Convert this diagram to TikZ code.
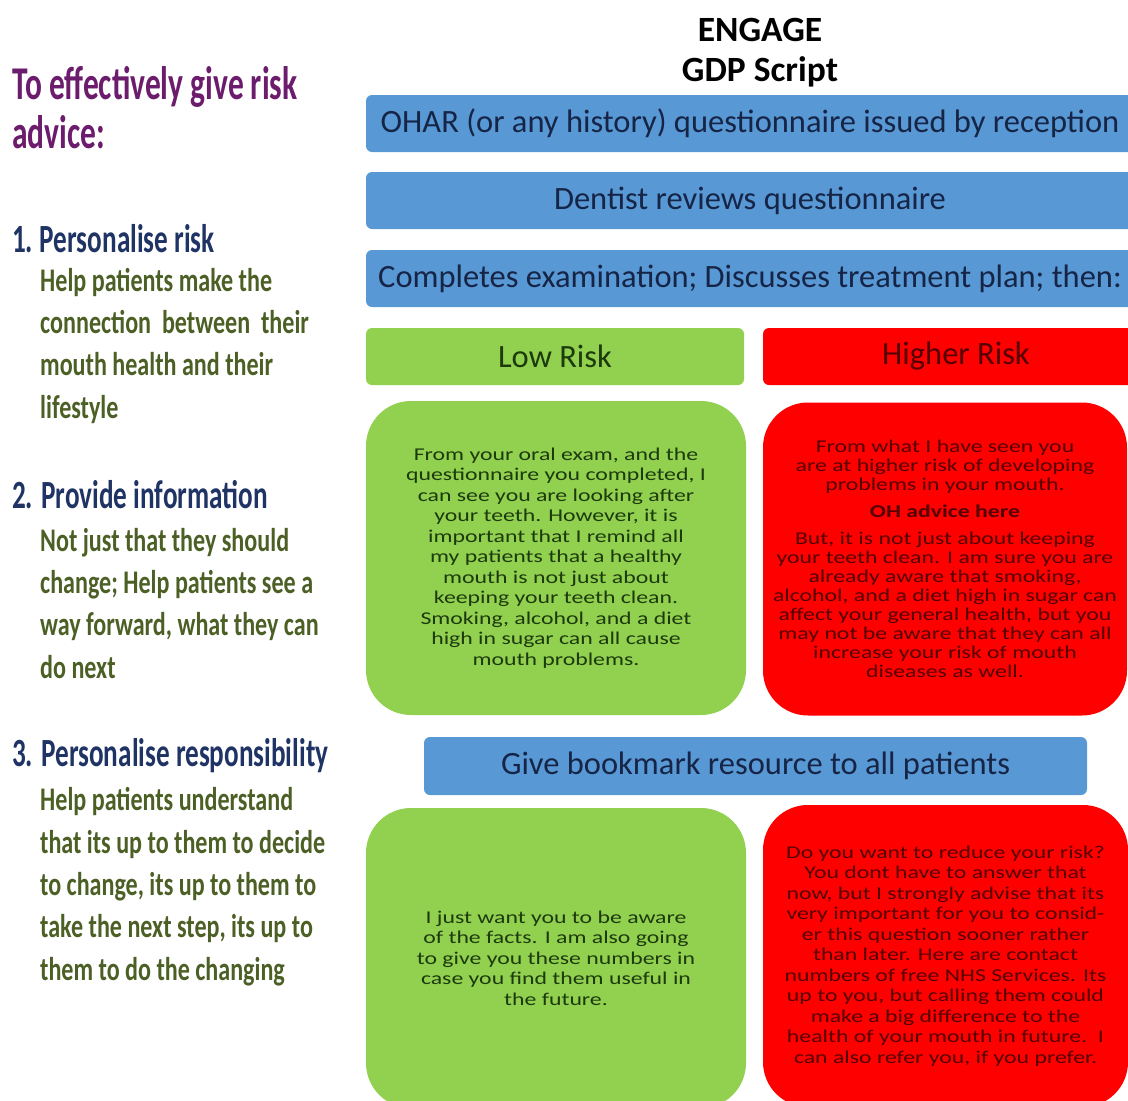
\documentclass[tikz,border=0pt]{standalone}
\usepackage{fontspec}
\setmainfont{Carlito}
\newfontfamily\titlefont[FakeStretch=0.67]{Carlito}
\newfontfamily\headfont[FakeStretch=0.68]{Carlito}
\newfontfamily\sidefont[FakeStretch=0.73]{Carlito}
\newfontfamily\talkfont[FakeStretch=1.32]{Carlito}

\definecolor{barblue}{RGB}{88,152,212}
\definecolor{lowgreen}{RGB}{146,208,80}
\definecolor{highred}{RGB}{255,0,0}
\definecolor{bartext}{RGB}{22,36,70}
\definecolor{lowtext}{RGB}{28,58,12}
\definecolor{hightext}{RGB}{84,0,0}
\definecolor{titlepurple}{RGB}{108,28,108}
\definecolor{headnavy}{RGB}{31,52,100}
\definecolor{bodyolive}{RGB}{76,96,38}

\begin{document}
\begin{tikzpicture}[x=1pt,y=-1pt,
    bar/.style={fill=barblue,rounded corners=6pt,minimum height=57pt,inner sep=0pt,
      text=bartext,font=\fontsize{32.5}{38}\selectfont},
    lowbar/.style={bar,fill=lowgreen,text=lowtext},
    highbar/.style={bar,fill=highred,text=hightext},
    talk/.style={rounded corners=45pt,inner sep=0pt,align=center,
      font=\talkfont\fontsize{18}{20.5}\selectfont},
    lowtalk/.style={talk,fill=lowgreen,text=lowtext},
    hightalk/.style={talk,fill=highred,text=hightext},
    side/.style={anchor=base west,inner sep=0pt,align=left,
      font=\sidefont\bfseries\fontsize{33}{42.3}\selectfont},
    sidehead/.style={side,text=headnavy,font=\headfont\bfseries\fontsize{40}{42}\selectfont}]
    \useasboundingbox (0,0) rectangle (1128,1101);
    \clip (0,0) rectangle (1128,1101);

    % heading of the script
    \node[font=\bfseries\fontsize{35.5}{40}\selectfont] (engage) at (760,30) {ENGAGE};
    \node[font=\bfseries\fontsize{35.5}{40}\selectfont] (gdp) at (760,72) {GDP Script};

    % flow bars
    \node[bar,minimum width=768pt] (ohar) at (750,123.5) {OHAR (or any history) questionnaire issued by reception};
    \node[bar,minimum width=768pt] (review) at (750,200.5) {Dentist reviews questionnaire};
    \node[bar,minimum width=768pt] (exam) at (750,278.5) {Completes examination; Discusses treatment plan; then:};
    \node[lowbar,minimum width=378pt] (low) at (555,356.5) {Low Risk};
    \node[highbar,minimum width=386pt] (high) at (956,356.5) {Higher Risk};

    % what the dentist says
    \node[lowtalk,minimum width=380pt,minimum height=314pt] (lowsay) at (556,558)
      {From your oral exam, and the\\questionnaire you completed, I\\can see you are looking after\\your teeth. However, it is\\important that I remind all\\my patients that a healthy\\mouth is not just about\\keeping your teeth clean.\\Smoking, alcohol, and a diet\\high in sugar can all cause\\mouth problems.};
    \node[hightalk,minimum width=364pt,minimum height=313pt,
      font=\talkfont\fontsize{18}{19}\selectfont] (highsay) at (945,559)
      {From what I have seen you\\are at higher risk of developing\\problems in your mouth.\\[8pt]\textbf{OH advice here}\\[8pt]But, it is not just about keeping\\your teeth clean. I am sure you are\\already aware that smoking,\\alcohol, and a diet high in sugar can\\affect your general health, but you\\may not be aware that they can all\\increase your risk of mouth\\diseases as well.};

    \node[bar,minimum width=663pt,minimum height=58pt] (bookmark) at (755.5,766) {Give bookmark resource to all patients};

    \node[lowtalk,minimum width=380pt,minimum height=300pt] (lowend) at (556,958)
      {I just want you to be aware\\of the facts. I am also going\\to give you these numbers in\\case you find them useful in\\the future.};
    \node[hightalk,minimum width=365pt,minimum height=302pt] (highend) at (945.5,956)
      {Do you want to reduce your risk?\\You dont have to answer that\\now, but I strongly advise that its\\very important for you to consid-\\er this question sooner rather\\than later. Here are contact\\numbers of free NHS Services. Its\\up to you, but calling them could\\make a big difference to the\\health of your mouth in future.\ \ I\\can also refer you, if you prefer.};

    % left column (base = last line)
    \node[side,text=titlepurple,font=\titlefont\bfseries\fontsize{47}{49}\selectfont] (advice) at (12,148)
      {To effectively give risk\\advice:};
    \node[sidehead] (personal) at (12,252) {1.\,Personalise risk};
    \node[side,text=bodyolive] (personaltext) at (40,418)
      {Help patients make the\\connection\ \ between\ \ their\\mouth health and their\\lifestyle};
    \node[sidehead] (inform) at (12,508) {2. Provide information};
    \node[side,text=bodyolive] (informtext) at (40,678)
      {Not just that they should\\change; Help patients see a\\way forward, what they can\\do next};
    \node[sidehead] (respons) at (12,766) {3. Personalise responsibility};
    \node[side,text=bodyolive] (responstext) at (40,980)
      {Help patients understand\\that its up to them to decide\\to change, its up to them to\\take the next step, its up to\\them to do the changing};
\end{tikzpicture}
\end{document}
